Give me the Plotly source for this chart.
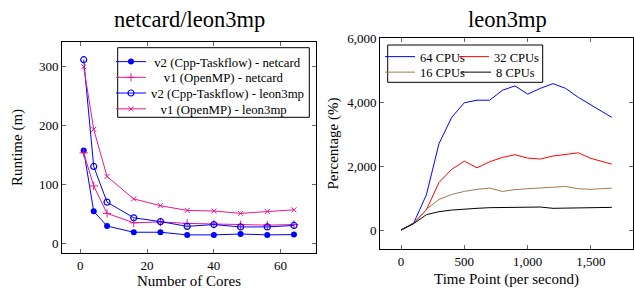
import plotly.graph_objects as go

# ---- Left chart data ----
cores = [1, 4, 8, 16, 24, 32, 40, 48, 56, 64]
v2_netcard = [158, 55, 30, 19.5, 19.5, 15, 15, 16.5, 15, 15.5]
v1_netcard = [154, 98, 51.5, 35.5, 37, 34.5, 33.5, 32, 31.5, 32.5]
v2_leon = [312, 131, 70.5, 44, 37.5, 29.5, 32.5, 28.5, 28.5, 31]
v1_leon = [300, 194, 114, 76, 64.5, 56.5, 55.5, 51.5, 54.5, 57.5]
left_names = ["v2 (Cpp-Taskflow) - netcard", "v1 (OpenMP) - netcard",
              "v2 (Cpp-Taskflow) - leon3mp", "v1 (OpenMP) - leon3mp"]

# ---- Right chart data ----
time_pts = [0, 100, 200, 300, 400, 500, 600, 700, 800, 900, 1000, 1100, 1200, 1300, 1400, 1500, 1665]
cpu64 = [0, 220, 1100, 2710, 3530, 3990, 4070, 4070, 4380, 4520, 4260, 4440, 4590, 4440, 4160, 3915, 3530]
cpu32 = [0, 210, 630, 1490, 1900, 2160, 1950, 2140, 2275, 2360, 2255, 2225, 2320, 2370, 2420, 2245, 2065]
cpu16 = [0, 210, 650, 960, 1115, 1210, 1275, 1315, 1210, 1265, 1295, 1325, 1345, 1365, 1295, 1275, 1315]
cpu8 = [0, 200, 480, 575, 625, 660, 680, 700, 710, 720, 730, 720, 680, 690, 700, 710, 710]
right_names = ["64 CPUs", "32 CPUs", "16 CPUs", "8 CPUs"]

BLUE = "#0000FF"
PINK = "#E8178C"
FONT = "Liberation Serif"
NB = "\u00a0"
W, H = 634, 289

fig = go.Figure()

left_series = [v2_netcard, v1_netcard, v2_leon, v1_leon]
left_styles = [
    dict(line=dict(color=BLUE, width=1), marker=dict(symbol="circle", size=6, color=BLUE)),
    dict(line=dict(color=PINK, width=1), marker=dict(symbol="cross-thin", size=6, line=dict(color=PINK, width=1))),
    dict(line=dict(color=BLUE, width=1), marker=dict(symbol="circle-open", size=6, line=dict(color=BLUE, width=1.2))),
    dict(line=dict(color=PINK, width=1), marker=dict(symbol="x-thin", size=5, line=dict(color=PINK, width=1))),
]
left_pad = [1, 4, 0, 3]           # centring of legend text (pgfplots style)
left_rows = [59.3, 75, 90.7, 106.5]  # legend row centres (px)
legends = {}
for i, (ys, st) in enumerate(zip(left_series, left_styles)):
    lname = "legend" if i == 0 else f"legend{i + 1}"
    fig.add_trace(go.Scatter(x=cores, y=ys, name=NB * left_pad[i] + left_names[i], mode="lines+markers",
                             xaxis="x", yaxis="y", legend=lname, **st))
    legends[lname] = dict(x=111 / W, y=1 - (left_rows[i] - 12.5) / H, xanchor="left", yanchor="top",
                          bgcolor="rgba(0,0,0,0)", borderwidth=0,
                          font=dict(family=FONT, size=12.8, color="black"), itemwidth=30)

right_series = [cpu64, cpu32, cpu16, cpu8]
right_colors = ["#0000FF", "#FF0000", "#A07850", "#000000"]
right_x = [380, 454, 380, 456]
right_rows = [55.5, 55.5, 71, 71]
for i, (ys, c) in enumerate(zip(right_series, right_colors)):
    lname = f"legend{i + 5}"
    fig.add_trace(go.Scatter(x=time_pts, y=ys, name=right_names[i], mode="lines",
                             line=dict(color=c, width=1), xaxis="x2", yaxis="y2", legend=lname))
    legends[lname] = dict(x=right_x[i] / W, y=1 - (right_rows[i] - 13.5) / H, xanchor="left", yanchor="top",
                          bgcolor="rgba(0,0,0,0)", borderwidth=0,
                          font=dict(family=FONT, size=12.5, color="black"), itemwidth=30)

axis_common = dict(showline=True, linecolor="black", linewidth=1, mirror="ticks",
                   ticks="inside", ticklen=4, tickcolor="#666", tickwidth=1,
                   showgrid=False, zeroline=False, automargin=False,
                   tickfont=dict(family=FONT, size=13, color="black"),
                   title_font=dict(family=FONT, size=15, color="black"))

fig.update_layout(
    template="none",
    width=W, height=H,
    margin=dict(l=0, r=0, t=0, b=0, autoexpand=False),
    paper_bgcolor="white", plot_bgcolor="white",
    font=dict(family=FONT, color="black"),
    xaxis=dict(domain=[62 / W, 316 / W], range=[-5.5, 70.6], tickvals=[0, 20, 40, 60],
               title=dict(text="Number of Cores", standoff=9), anchor="y", **axis_common),
    yaxis=dict(domain=[(H - 253) / H, (H - 42) / H], range=[-15.7, 342], tickvals=[0, 100, 200, 300],
               title=dict(text="Runtime (m)", standoff=12), anchor="x", **axis_common),
    xaxis2=dict(domain=[380 / W, 633 / W], range=[-166, 1832], tickvals=[0, 500, 1000, 1500],
                tickformat=",", title=dict(text="Time Point (per second)", standoff=5), anchor="y2", **axis_common),
    yaxis2=dict(domain=[(H - 249.3) / H, (H - 37.7) / H], range=[-605, 6030], tickvals=[0, 2000, 4000, 6000],
                tickformat=",", title=dict(text="Percentage (%)", standoff=4), anchor="x2", **axis_common),
    showlegend=True,
    **legends,
)

# legend frames
fig.add_shape(type="rect", xref="paper", yref="paper",
              x0=117.7 / W, x1=309.3 / W, y0=1 - 117.3 / H, y1=1 - 47.7 / H,
              line=dict(color="black", width=1), fillcolor="white", layer="above")
fig.add_shape(type="rect", xref="paper", yref="paper",
              x0=387.7 / W, x1=542.7 / W, y0=1 - 82.3 / H, y1=1 - 45 / H,
              line=dict(color="black", width=1), fillcolor="white", layer="above")

fig.add_annotation(text="netcard/leon3mp", x=189 / W, y=1 - 19.5 / H, xref="paper", yref="paper",
                   showarrow=False, font=dict(family=FONT, size=22.5, color="black"),
                   xanchor="center", yanchor="middle")
fig.add_annotation(text="leon3mp", x=507 / W, y=1 - 19.5 / H, xref="paper", yref="paper",
                   showarrow=False, font=dict(family=FONT, size=22.5, color="black"),
                   xanchor="center", yanchor="middle")

fig.write_html("out.html", config={"displayModeBar": False},
               post_script="document.body.style.margin='0px';")
